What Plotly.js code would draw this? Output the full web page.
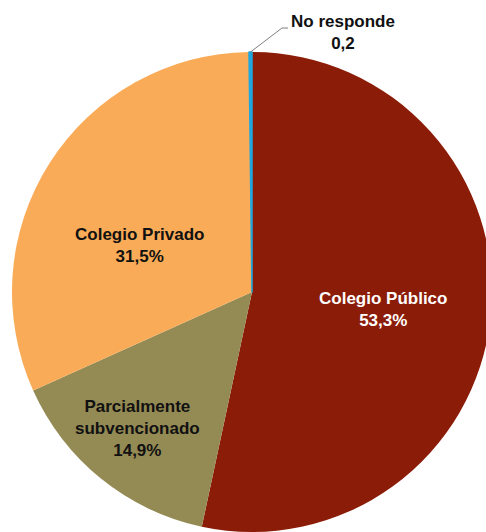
<!DOCTYPE html>
<html><head><meta charset="utf-8">
<script src="https://cdn.plot.ly/plotly-3.0.1.min.js"></script>
<style>html,body{margin:0;padding:0;overflow:hidden;background:#fff;width:486px;height:532px}</style>
</head><body><div id="chart"></div>
<script>
const categories = ["Colegio Público", "Parcialmente<br>subvencionado", "Colegio Privado", "No responde"];
const values = [53.3, 14.9, 31.5, 0.2];
const valueLabels = ["53,3%", "14,9%", "31,5%", "0,2"];
const colors = ["#8B1C07", "#948A54", "#F9AB57", "#1FA6DE"];
const textColors = ["#ffffff", "#111111", "#111111", "#111111"];

const W = 504, H = 532;
const R = 240, cx = 252, cy = 292;
const toPX = (px) => px / W;
const toPY = (py) => 1 - py / H;

// label positions (px) for annotations
const labelPos = [[383, 309], [137, 428], [139, 246], [343, 32]];

const annotations = categories.map((c, i) => ({
  x: toPX(labelPos[i][0]), y: toPY(labelPos[i][1]), xref: 'paper', yref: 'paper',
  text: c + '<br>' + valueLabels[i], showarrow: false,
  font: {family: 'Liberation Sans, Arial, sans-serif', size: 17, color: textColors[i], weight: 'bold'},
  align: 'center', xanchor: 'center', yanchor: 'middle'
}));

// leader line for the small slice, from its mid-angle on the rim
const total = values.reduce((a, b) => a + b, 0);
let cum = 0;
for (let i = 0; i < 3; i++) cum += values[i];
const midFrac = (cum + values[3] / 2) / total;
const ang = midFrac * 2 * Math.PI;
const sx = cx + R * Math.sin(ang), sy = cy - R * Math.cos(ang);
const shapes = [{
  type: 'path', xref: 'paper', yref: 'paper',
  path: `M ${toPX(sx)} ${toPY(sy)} L ${toPX(282)} ${toPY(28)} L ${toPX(288)} ${toPY(28)}`,
  line: {color: '#7f7f7f', width: 1}
}];

Plotly.newPlot('chart', [{
  type: 'pie', labels: categories, values: values, sort: false,
  direction: 'clockwise', rotation: 0,
  marker: {colors: colors, line: {width: [0, 0, 0, 1.5], color: colors}},
  textinfo: 'none', hoverinfo: 'none', showlegend: false,
  domain: {x: [0, 1], y: [0, (2 * R) / H]}
}], {
  width: W, height: H, margin: {l: 0, r: 0, t: 0, b: 0},
  paper_bgcolor: '#ffffff', plot_bgcolor: '#ffffff',
  annotations: annotations, shapes: shapes
}, {displayModeBar: false, staticPlot: true});
</script></body></html>
